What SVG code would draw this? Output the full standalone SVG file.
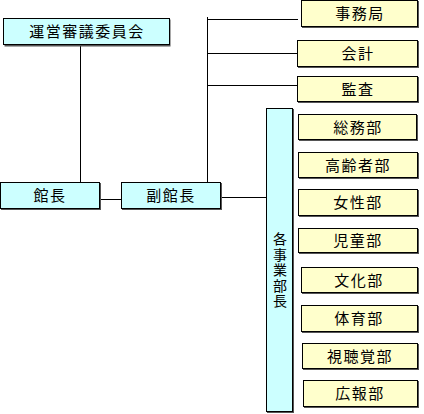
<svg xmlns="http://www.w3.org/2000/svg" width="424" height="414" viewBox="0 0 424 414">
<style>
.c{fill:#ccffff;stroke:#000;stroke-width:1}
.y{fill:#ffffcc;stroke:#000;stroke-width:1}
.sh{fill:#555}
.t{font-family:"Noto Sans CJK JP","Noto Sans CJK SC",sans-serif;font-size:15px;fill:#000;text-anchor:middle;letter-spacing:1.5px}
.v{font-family:"Noto Sans CJK JP","Noto Sans CJK SC",sans-serif;font-size:14px;fill:#000;writing-mode:vertical-rl;text-anchor:start;letter-spacing:1.5px}
.ln{stroke:#000;stroke-width:1;fill:none}
</style>
<rect width="424" height="414" fill="#fff"/>
<g id="connectors">
<line class="ln" x1="80.5" y1="46" x2="80.5" y2="182"/>
<line class="ln" x1="207.5" y1="17" x2="207.5" y2="183"/>
<line class="ln" x1="207" y1="19.5" x2="298" y2="19.5"/>
<line class="ln" x1="207" y1="53.5" x2="297" y2="53.5"/>
<line class="ln" x1="207" y1="85.5" x2="297" y2="85.5"/>
<line class="ln" x1="100" y1="199.5" x2="121" y2="199.5"/>
<line class="ln" x1="220" y1="197.5" x2="266" y2="197.5"/>
</g>
<g id="unei">
<rect class="sh" x="4.5" y="19.5" width="166" height="27"/>
<rect class="c" x="3.5" y="18.5" width="166" height="26"/>
<text class="t" x="87" y="37">運営審議委員会</text>
</g>
<g id="kancho">
<rect class="sh" x="1" y="183" width="100" height="27"/>
<rect class="c" x="0.5" y="182.5" width="99" height="26"/>
<text class="t" x="50" y="201">館長</text>
</g>
<g id="fukukancho">
<rect class="sh" x="122" y="183" width="100" height="27"/>
<rect class="c" x="121.5" y="182.5" width="99" height="26"/>
<text class="t" x="171" y="201">副館長</text>
</g>
<g id="kakujigyobucho">
<rect class="sh" x="267" y="109" width="27" height="304"/>
<rect class="c" x="266.5" y="108.5" width="26" height="303"/>
<text class="v" x="280" y="232">各事業部長</text>
</g>
<g id="jimukyoku">
<rect class="sh" x="302" y="1" width="117" height="27"/>
<rect class="y" x="301.5" y="0.5" width="116" height="26"/>
<text class="t" x="360" y="19">事務局</text>
</g>
<g id="kaikei">
<rect class="sh" x="298" y="41" width="121" height="27"/>
<rect class="y" x="297.5" y="40.5" width="120" height="26"/>
<text class="t" x="358" y="59">会計</text>
</g>
<g id="kansa">
<rect class="sh" x="298" y="77" width="121" height="26"/>
<rect class="y" x="297.5" y="76.5" width="120" height="25"/>
<text class="t" x="358" y="95">監査</text>
</g>
<g id="somubu">
<rect class="sh" x="299" y="115" width="119" height="26"/>
<rect class="y" x="298.5" y="114.5" width="118" height="25"/>
<text class="t" x="358" y="133">総務部</text>
</g>
<g id="koreishabu">
<rect class="sh" x="299" y="153" width="120" height="26"/>
<rect class="y" x="298.5" y="152.5" width="119" height="25"/>
<text class="t" x="358" y="171">高齢者部</text>
</g>
<g id="joseibu">
<rect class="sh" x="299" y="190" width="120" height="27"/>
<rect class="y" x="298.5" y="189.5" width="119" height="26"/>
<text class="t" x="358" y="208">女性部</text>
</g>
<g id="jidobu">
<rect class="sh" x="299" y="229" width="120" height="25"/>
<rect class="y" x="298.5" y="228.5" width="119" height="24"/>
<text class="t" x="358" y="246">児童部</text>
</g>
<g id="bunkabu">
<rect class="sh" x="302" y="268" width="117" height="26"/>
<rect class="y" x="301.5" y="267.5" width="116" height="25"/>
<text class="t" x="359" y="286">文化部</text>
</g>
<g id="taikubu">
<rect class="sh" x="302" y="306" width="117" height="27"/>
<rect class="y" x="301.5" y="305.5" width="116" height="26"/>
<text class="t" x="359" y="324">体育部</text>
</g>
<g id="shichokakubu">
<rect class="sh" x="303" y="344" width="116" height="26"/>
<rect class="y" x="302.5" y="343.5" width="115" height="25"/>
<text class="t" x="360" y="362">視聴覚部</text>
</g>
<g id="kohobu">
<rect class="sh" x="304" y="381" width="115" height="27"/>
<rect class="y" x="303.5" y="380.5" width="114" height="26"/>
<text class="t" x="360" y="399">広報部</text>
</g>
</svg>
